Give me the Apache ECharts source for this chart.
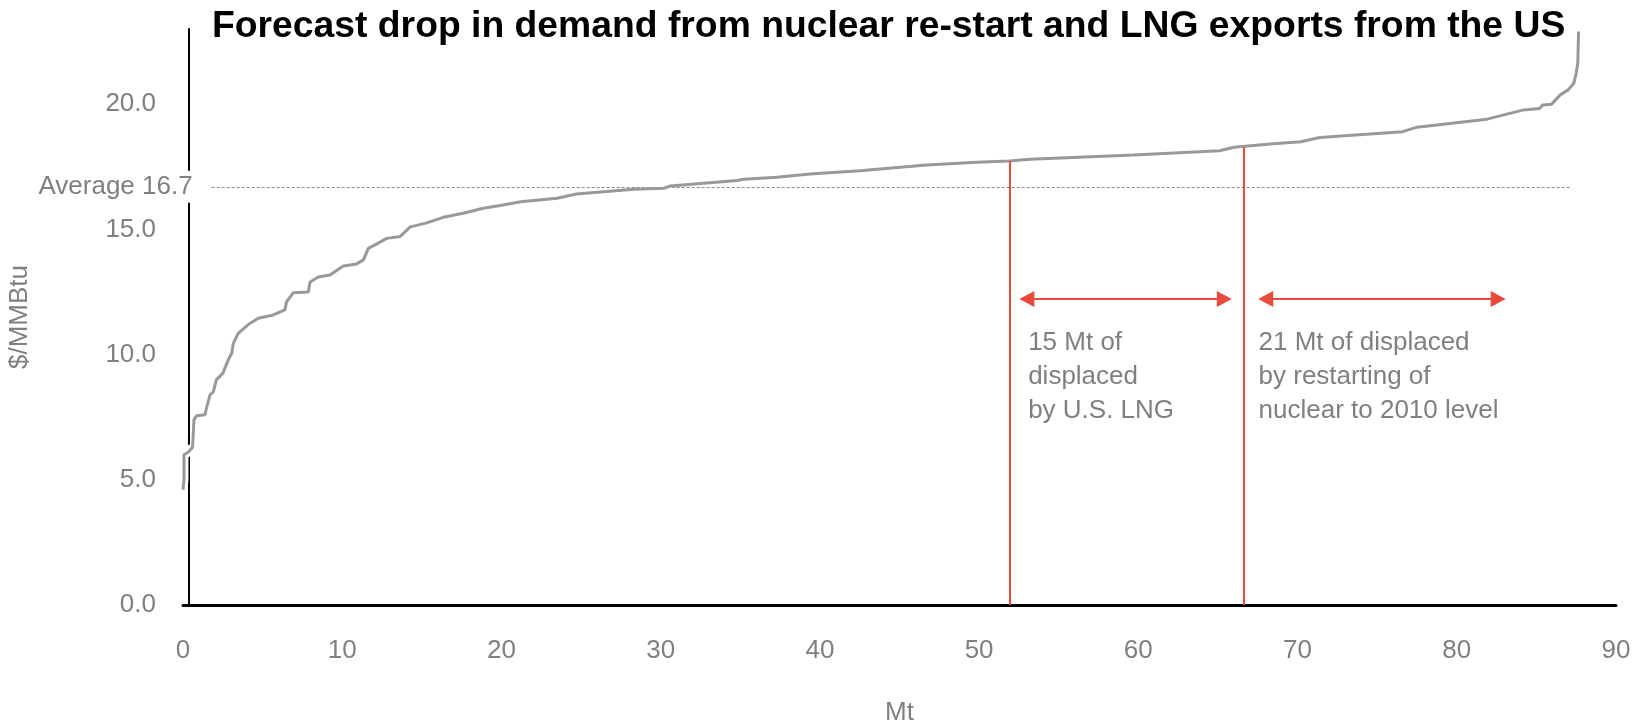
<!DOCTYPE html>
<html>
<head>
<meta charset="utf-8">
<script src="https://cdn.jsdelivr.net/npm/echarts@6/dist/echarts.min.js"></script>
<style>
html,body{margin:0;padding:0;background:#fff;}
#chart{width:1642px;height:721px;}
</style>
</head>
<body>
<div id="chart"></div>
<script>
// ---- data ----
const titleText = 'Forecast drop in demand from nuclear re-start and LNG exports from the US';
const xTickValues = [0, 10, 20, 30, 40, 50, 60, 70, 80, 90];
const yTickValues = [0, 5, 10, 15, 20];
// cumulative volume (Mt)
const volumeMt = [0, 0.06, 0.06, 0.33, 0.6, 0.69, 0.86, 1.38, 1.49, 1.7, 1.9, 2.1, 2.5, 2.85, 3.06, 3.16, 3.47, 4.1, 4.73, 5.67, 6.4, 6.5, 6.93, 7.87, 7.98, 8.5, 9.23, 10.07, 10.9, 11.33, 11.64, 12.06, 12.8, 13.63, 14.27, 15.2, 16.35, 17.6, 18.86, 20.1, 21.2, 23.5, 24.7, 28.3, 30.2, 30.6, 34.8, 35.2, 37.3, 39.4, 42.5, 46.7, 49.85, 51.9, 53.2, 59.7, 65.1, 66.0, 68.3, 70.2, 71.4, 76.6, 77.5, 81.9, 84.2, 85.2, 85.4, 85.96, 86.5, 87.0, 87.35, 87.5, 87.6, 87.65];
// price ($/MMBtu)
const priceUsd = [4.6, 5.0, 6.0, 6.1, 6.3, 7.4, 7.56, 7.6, 7.9, 8.4, 8.5, 9.0, 9.25, 9.8, 10.05, 10.45, 10.85, 11.2, 11.45, 11.58, 11.78, 12.1, 12.47, 12.5, 12.9, 13.1, 13.18, 13.54, 13.62, 13.78, 14.24, 14.38, 14.64, 14.71, 15.1, 15.24, 15.48, 15.64, 15.84, 15.97, 16.1, 16.24, 16.41, 16.6, 16.64, 16.73, 16.95, 17.0, 17.08, 17.21, 17.34, 17.57, 17.68, 17.73, 17.8, 17.97, 18.14, 18.28, 18.41, 18.5, 18.67, 18.9, 19.08, 19.4, 19.77, 19.83, 19.97, 20.0, 20.37, 20.57, 20.83, 21.24, 21.64, 22.9];
const averagePrice = 16.7;
const averageLabel = 'Average 16.7';
const averageSpan = [1.8, 87.1];
// cut-off markers (x position, price at the curve)
const cutoffX = [51.9, 66.6];
const cutoffY = [17.73, 18.28];
// double arrows (line ends) at level
const arrowLng = [53.0, 65.4];
const arrowNuclear = [68.0, 82.6];
const arrowLevel = 12.22;
// notes
const noteX = [53.08, 67.55];
const noteLevel = 11.14;
const noteLng = '15 Mt of\ndisplaced\nby U.S. LNG';
const noteNuclear = '21 Mt of displaced\nby restarting of\nnuclear to 2010 level';
const xName = 'Mt';
const yName = '$/MMBtu';

// ---- chart ----
const FONT = '"Liberation Sans", Arial, Helvetica, sans-serif';
const GREY = '#808080';
const RED = '#e84a3c';
const curve = volumeMt.map((x, i) => [x, priceUsd[i]]);

const chart = echarts.init(document.getElementById('chart'), null, {renderer: 'canvas'});
chart.setOption({
  animation: false,
  backgroundColor: '#fff',
  textStyle: {fontFamily: FONT},
  title: {
    text: titleText,
    left: 212,
    top: 8,
    padding: 0,
    textStyle: {fontFamily: FONT, fontSize: 37.3, fontWeight: 'bold', color: '#000'}
  },
  grid: {left: 183, right: 26, top: 29, bottom: 116, containLabel: false, outerBoundsMode: 'none'},
  xAxis: {
    type: 'value', min: 0, max: 90, interval: 10,
    name: xName, nameLocation: 'middle', nameGap: 95,
    nameTextStyle: {fontFamily: FONT, fontSize: 26, color: GREY},
    axisLine: {show: true, onZero: false, lineStyle: {color: '#000', width: 3}},
    axisTick: {show: false},
    splitLine: {show: false},
    axisLabel: {
      margin: 33, fontFamily: FONT, fontSize: 26, color: GREY,
      formatter: v => xTickValues.includes(v) ? String(v) : ''
    }
  },
  yAxis: {
    type: 'value', min: 0, max: 23, interval: 5,
    offset: -6,
    name: yName, nameLocation: 'middle', nameGap: 156,
    nameTextStyle: {fontFamily: FONT, fontSize: 26, color: GREY},
    axisLine: {show: true, onZero: false, lineStyle: {color: '#000', width: 2}},
    axisTick: {show: false},
    splitLine: {show: false},
    axisLabel: {
      margin: 33, fontFamily: FONT, fontSize: 26, color: GREY,
      showMaxLabel: false,
      formatter: v => yTickValues.includes(v) ? v.toFixed(1) : ''
    }
  },
  series: [
    {
      // white halo where the curve crosses the y-axis
      type: 'line', z: 1, silent: true, showSymbol: false, clip: false,
      data: curve.slice(0, 5),
      lineStyle: {color: '#fff', width: 9}
    },
    {
      type: 'line', z: 3, silent: true, showSymbol: false, clip: false,
      data: curve,
      lineStyle: {color: '#999999', width: 3},
      markPoint: {
        silent: true,
        symbol: 'circle', symbolSize: 0,
        label: {
          show: true, position: [0, 0], align: 'left', verticalAlign: 'top',
          fontFamily: FONT, fontSize: 26, lineHeight: 34, color: GREY
        },
        data: [
          {coord: [noteX[0], noteLevel], label: {formatter: noteLng}},
          {coord: [noteX[1], noteLevel], label: {formatter: noteNuclear}}
        ]
      }
    },
    {
      type: 'line', z: 2, data: [],
      markLine: {
        silent: true, symbol: ['none', 'none'], z: 2,
        lineStyle: {type: [3, 2], color: '#8c8c8c', width: 1},
        label: {
          show: true, position: 'start', distance: 19,
          formatter: averageLabel,
          fontFamily: FONT, fontSize: 26, color: GREY,
          backgroundColor: '#fff', padding: [5, 0, 1, 2]
        },
        data: [[{coord: [averageSpan[0], averagePrice]}, {coord: [averageSpan[1], averagePrice]}]]
      }
    },
    {
      type: 'line', z: 4, data: [],
      markLine: {
        silent: true, symbol: ['none', 'none'], z: 4,
        lineStyle: {type: 'solid', color: RED, width: 2},
        label: {show: false},
        data: cutoffX.map((x, i) => [{coord: [x, 0]}, {coord: [x, cutoffY[i]]}])
      }
    },
    {
      type: 'line', z: 4, data: [],
      markLine: {
        silent: true, symbol: ['triangle', 'triangle'], symbolSize: [16, 15], z: 4,
        lineStyle: {type: 'solid', color: RED, width: 2},
        itemStyle: {color: RED},
        label: {show: false},
        data: [
          [{coord: [arrowLng[0], arrowLevel]}, {coord: [arrowLng[1], arrowLevel]}],
          [{coord: [arrowNuclear[0], arrowLevel]}, {coord: [arrowNuclear[1], arrowLevel]}]
        ]
      }
    }
  ]
});
</script>
</body>
</html>
